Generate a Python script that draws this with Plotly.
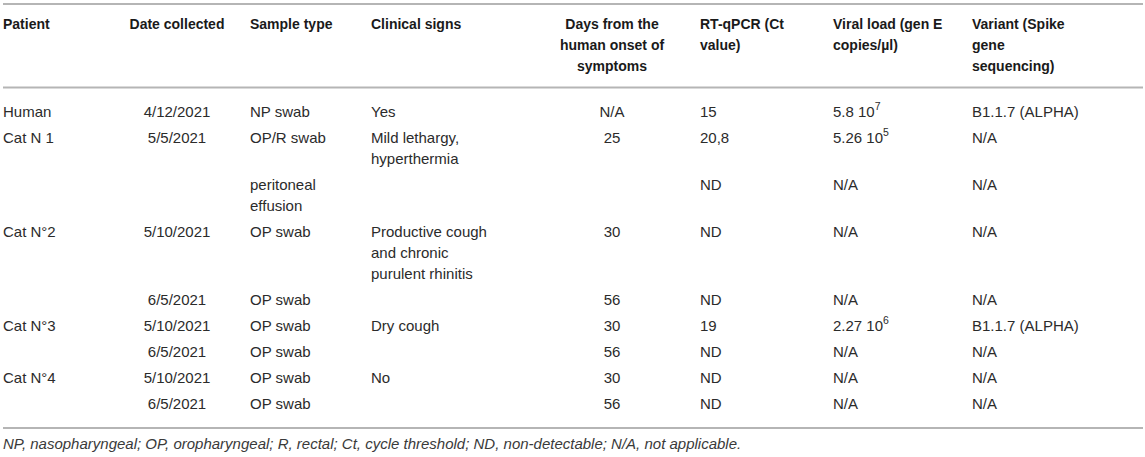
import plotly.graph_objects as go

# table contents
headers = ["Patient", "Date collected", "Sample type", "Clinical signs",
           "Days from the<br>human onset of<br>symptoms", "RT-qPCR (Ct<br>value)",
           "Viral load (gen E<br>copies/µl)", "Variant (Spike<br>gene<br>sequencing)"]
patient = ["Human", "Cat N 1", "", "Cat N°2", "", "Cat N°3", "", "Cat N°4", ""]
date_collected = ["4/12/2021", "5/5/2021", "", "5/10/2021", "6/5/2021",
                  "5/10/2021", "6/5/2021", "5/10/2021", "6/5/2021"]
sample_type = ["NP swab", "OP/R swab", "peritoneal<br>effusion", "OP swab", "OP swab",
               "OP swab", "OP swab", "OP swab", "OP swab"]
clinical_signs = ["Yes", "Mild lethargy,<br>hyperthermia", "",
                  "Productive cough<br>and chronic<br>purulent rhinitis", "",
                  "Dry cough", "", "No", ""]
days_onset = ["N/A", "25", "", "30", "56", "30", "56", "30", "56"]
ct_value = ["15", "20,8", "ND", "ND", "ND", "19", "ND", "ND", "ND"]
viral_load = ["5.8 10<sup>7</sup>", "5.26 10<sup>5</sup>", "N/A", "N/A", "N/A",
              "2.27 10<sup>6</sup>", "N/A", "N/A", "N/A"]
variant = ["B1.1.7 (ALPHA)", "N/A", "N/A", "N/A", "N/A", "B1.1.7 (ALPHA)", "N/A", "N/A", "N/A"]
footnote = ("NP, nasopharyngeal; OP, oropharyngeal; R, rectal; Ct, cycle threshold; "
            "ND, non-detectable; N/A, not applicable.")

columns = [patient, date_collected, sample_type, clinical_signs,
           days_onset, ct_value, viral_load, variant]

# layout of the columns (x in px, text anchor)
col_x = [3, 177, 250, 371, 612, 700, 833, 972]
col_pos = ["middle right", "middle center", "middle right", "middle right",
           "middle center", "middle right", "middle right", "middle right"]

W, H = 1145, 457
LINE = 21      # line pitch inside a cell
GAP = 5        # extra space between rows
HEAD_Y = 25
BODY_Y = 113
FONT = "Liberation Sans, Arial, sans-serif"
RULE = "#b5b5b5"

# first-line y of every body row
n_lines = [max(c[i].count("<br>") + 1 for c in columns) for i in range(len(patient))]
row_y = []
y = BODY_Y
for n in n_lines:
    row_y.append(y)
    y += n * LINE + GAP

fig = go.Figure()

for j, col in enumerate(columns):
    xs, ys, ts = [], [], []
    for k, line in enumerate(headers[j].split("<br>")):
        xs.append(col_x[j]); ys.append(HEAD_Y + k * LINE); ts.append("<b>" + line + "</b>")
    fig.add_trace(go.Scatter(x=xs, y=ys, text=ts, mode="text", textposition=col_pos[j],
                             textfont=dict(family=FONT, size=14, color="#1a1a1a"),
                             hoverinfo="skip", showlegend=False))
    xs, ys, ts = [], [], []
    for i, cell in enumerate(col):
        if not cell:
            continue
        for k, line in enumerate(cell.split("<br>")):
            xs.append(col_x[j]); ys.append(row_y[i] + k * LINE); ts.append(line)
    fig.add_trace(go.Scatter(x=xs, y=ys, text=ts, mode="text", textposition=col_pos[j],
                             textfont=dict(family=FONT, size=15, color="#2b2b2b"),
                             hoverinfo="skip", showlegend=False))

fig.add_trace(go.Scatter(x=[3], y=[445], text=["<i>" + footnote + "</i>"], mode="text",
                         textposition="middle right",
                         textfont=dict(family=FONT, size=15, color="#3a3a3a"),
                         hoverinfo="skip", showlegend=False))

# horizontal rules: top, under header, bottom
for yr in [4, 87.5, 428]:
    fig.add_shape(type="line", x0=3, x1=1143, y0=yr, y1=yr,
                  line=dict(color=RULE, width=2), layer="below")

fig.update_layout(
    width=W, height=H, margin=dict(l=0, r=0, t=0, b=0),
    paper_bgcolor="white", plot_bgcolor="white",
    xaxis=dict(range=[0, W], visible=False, fixedrange=True),
    yaxis=dict(range=[H, 0], visible=False, fixedrange=True),
)

# page body has an 8px default margin; drop it so the table sits at the window edge
fig.write_html("out.html", config={"displayModeBar": False},
               post_script="document.body.style.margin='0px';")
